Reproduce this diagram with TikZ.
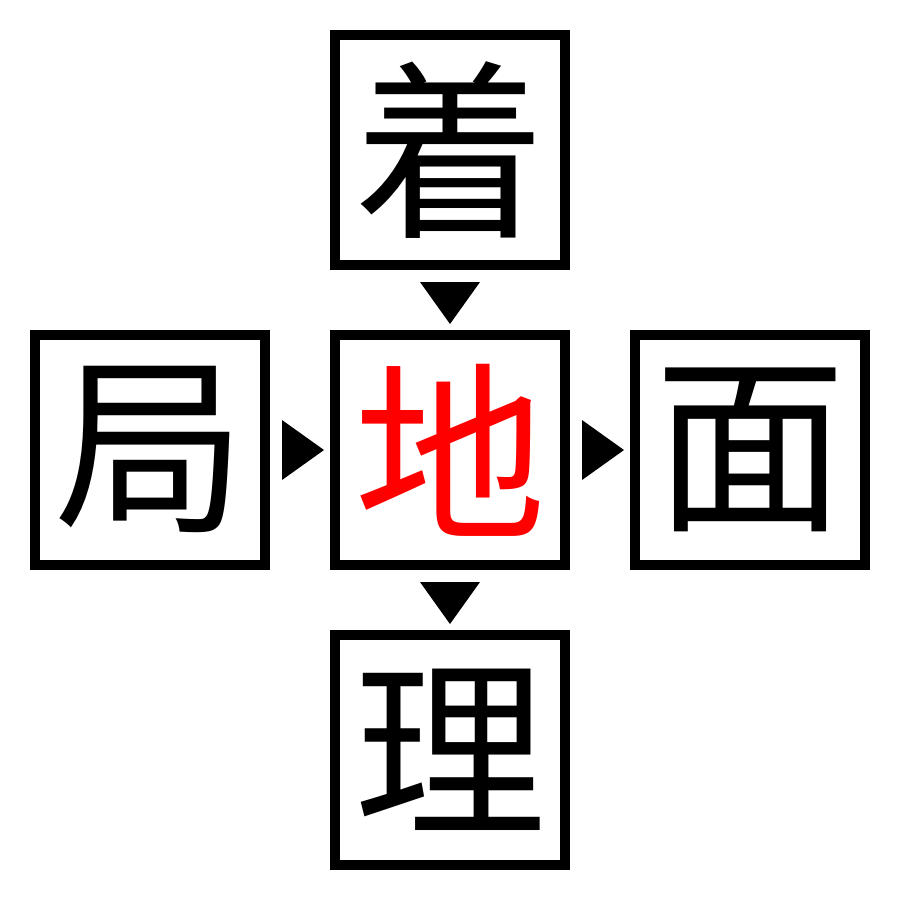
\documentclass[tikz,border=0pt]{standalone}
\usepackage{fontspec}
\newfontfamily\cjk{Noto Sans CJK JP}
\begin{document}
\begin{tikzpicture}[x=1pt,y=-1pt,
  charbox/.style={draw=black,line width=10pt,minimum size=230pt,inner sep=0pt,fill=white,
    font=\cjk\fontsize{192}{192}\selectfont},
  tri/.style={fill=black,draw=none}]
\useasboundingbox (0,0) rectangle (900,900);
\node[charbox] (top) at (450,150) {着};
\node[charbox] (left) at (150,450) {局};
\node[charbox,text=red] (mid) at (450,450) {地};
\node[charbox] (right) at (750,450) {面};
\node[charbox] (bot) at (450,750) {理};
\fill[tri] (420,282) -- (480,282) -- (450,324) -- cycle;
\fill[tri] (420,582) -- (480,582) -- (450,624) -- cycle;
\fill[tri] (282,420) -- (282,480) -- (324,450) -- cycle;
\fill[tri] (582,420) -- (582,480) -- (624,450) -- cycle;
\end{tikzpicture}
\end{document}
